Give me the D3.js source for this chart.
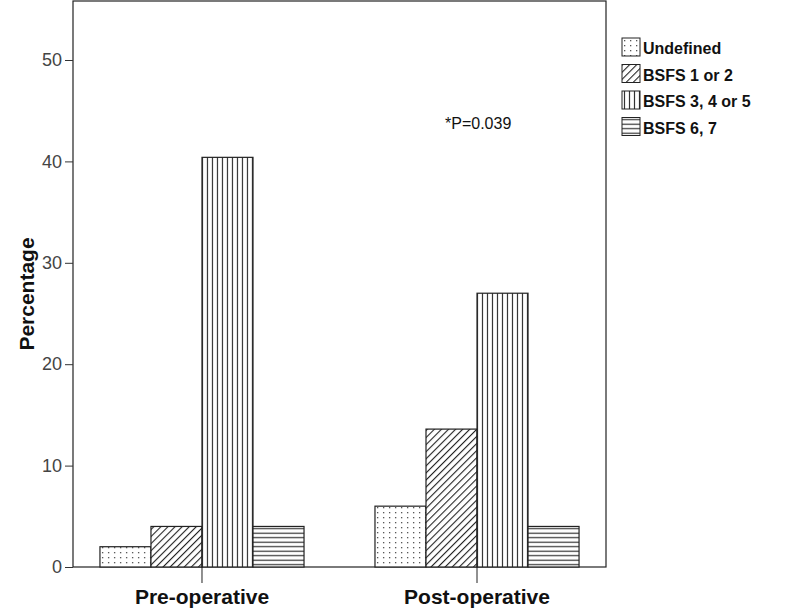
<!DOCTYPE html>
<html><head><meta charset="utf-8">
<script src="https://d3js.org/d3.v7.min.js"></script>
<style>body{margin:0;background:#fff}text{font-family:"Liberation Sans",Arial,sans-serif}</style>
</head><body><div id="chart"></div>
<script>
const groups = ["Pre-operative", "Post-operative"];
const series = ["Undefined", "BSFS 1 or 2", "BSFS 3, 4 or 5", "BSFS 6, 7"];
const preValues = [2.0, 4.0, 40.4, 4.0];
const postValues = [6.0, 13.6, 27.0, 4.0];
const yTicks = [0, 10, 20, 30, 40, 50];

const W = 788, H = 613;
const mLeft = 73, mRight = 606, mTop = 1, mBottom = 567;
const svg = d3.select("#chart").append("svg").attr("width", W).attr("height", H);

// patterns
const defs = svg.append("defs");
const patIds = ["pDots", "pDiag", "pVert", "pHorz"];
let p = defs.append("pattern").attr("id", "pDots").attr("patternUnits", "userSpaceOnUse").attr("width", 6).attr("height", 5);
p.append("rect").attr("width", 6).attr("height", 5).attr("fill", "#fff");
p.append("rect").attr("x", 2).attr("y", 2).attr("width", 1.3).attr("height", 1.3).attr("fill", "#555");
p = defs.append("pattern").attr("id", "pDiag").attr("patternUnits", "userSpaceOnUse").attr("width", 5).attr("height", 5)
  .attr("patternTransform", "rotate(45)");
p.append("rect").attr("width", 5).attr("height", 5).attr("fill", "#fff");
p.append("line").attr("x1", 0).attr("y1", 0).attr("x2", 0).attr("y2", 5).attr("stroke", "#222").attr("stroke-width", 2.2);
p = defs.append("pattern").attr("id", "pVert").attr("patternUnits", "userSpaceOnUse").attr("width", 5).attr("height", 5);
p.append("rect").attr("width", 5).attr("height", 5).attr("fill", "#fff");
p.append("line").attr("x1", 2.5).attr("y1", 0).attr("x2", 2.5).attr("y2", 5).attr("stroke", "#333").attr("stroke-width", 1.2);
p = defs.append("pattern").attr("id", "pHorz").attr("patternUnits", "userSpaceOnUse").attr("width", 5).attr("height", 4.5);
p.append("rect").attr("width", 5).attr("height", 4.5).attr("fill", "#fff");
p.append("line").attr("x1", 0).attr("y1", 2.2).attr("x2", 5).attr("y2", 2.2).attr("stroke", "#333").attr("stroke-width", 1.2);

const y = d3.scaleLinear().domain([0, 50]).range([mBottom, 60]);
const x0 = d3.scaleBand().domain(groups).range([mLeft, mRight]).paddingInner(0.258).paddingOuter(0.098);
const x1 = d3.scaleBand().domain(series).range([0, x0.bandwidth()]);

// frame
svg.append("rect").attr("x", mLeft).attr("y", mTop).attr("width", mRight - mLeft).attr("height", mBottom - mTop)
  .attr("fill", "none").attr("stroke", "#222").attr("stroke-width", 1.2);

const data = groups.map((g, i) => ({ g, vals: i === 0 ? preValues : postValues }));
svg.selectAll("g.grp").data(data).join("g").attr("class", "grp")
  .attr("transform", d => `translate(${x0(d.g)},0)`)
  .selectAll("rect").data(d => d.vals.map((v, j) => ({ s: series[j], v, j })))
  .join("rect")
  .attr("x", d => x1(d.s)).attr("width", x1.bandwidth())
  .attr("y", d => y(d.v)).attr("height", d => y(0) - y(d.v))
  .attr("fill", d => `url(#${patIds[d.j]})`).attr("stroke", "#222").attr("stroke-width", 1.2);

// y axis
const ya = svg.append("g").attr("transform", `translate(${mLeft},0)`)
  .call(d3.axisLeft(y).tickValues(yTicks).tickSize(8).tickPadding(3));
ya.select(".domain").remove();
ya.selectAll("line").attr("stroke", "#333");
ya.selectAll("text").attr("font-size", 18).attr("fill", "#444").style("font-family", "Liberation Sans, Arial, sans-serif");

// x axis
const xa = svg.append("g").attr("transform", `translate(0,${mBottom})`)
  .call(d3.axisBottom(x0).tickSize(16).tickPadding(6));
xa.select(".domain").remove();
xa.selectAll("line").attr("stroke", "#222");
xa.selectAll("text").attr("font-size", 21).attr("font-weight", "bold").attr("fill", "#111")
  .style("font-family", "Liberation Sans, Arial, sans-serif");

svg.append("text").attr("transform", `translate(34,${(mTop + mBottom) / 2 + 10}) rotate(-90)`)
  .attr("text-anchor", "middle").attr("font-size", 21).attr("font-weight", "bold").attr("fill", "#111").text("Percentage");

svg.append("text").attr("x", 445).attr("y", 129).attr("font-size", 16).attr("fill", "#111").text("*P=0.039");

// legend
const lg = svg.append("g").attr("transform", "translate(622,38)");
const li = lg.selectAll("g").data(series).join("g").attr("transform", (d, i) => `translate(0,${i * 26.5})`);
li.append("rect").attr("width", 18).attr("height", 18).attr("fill", (d, i) => `url(#${patIds[i]})`)
  .attr("stroke", "#222").attr("stroke-width", 1);
li.append("text").attr("x", 21).attr("y", 16).attr("font-size", 16).attr("font-weight", "bold").attr("fill", "#111").text(d => d);
</script></body></html>
